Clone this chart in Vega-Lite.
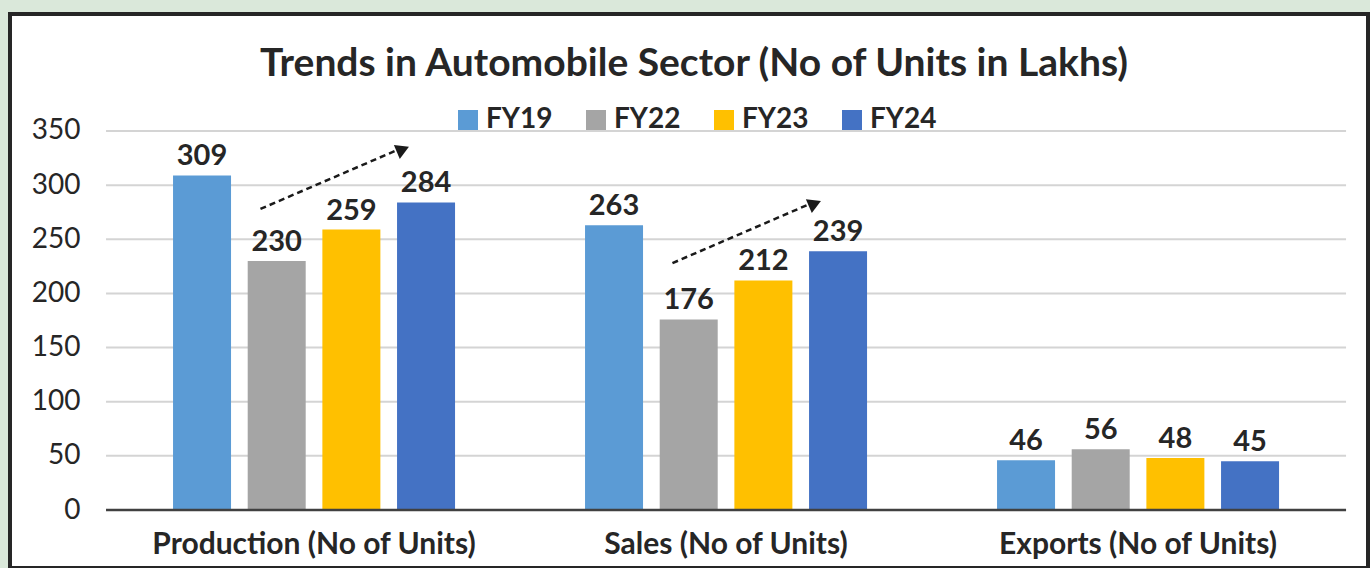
{
  "$schema": "https://vega.github.io/schema/vega-lite/v6.json",
  "autosize": {"type": "none"},
  "width": 1358,
  "height": 554,
  "padding": {"left": 10, "top": 14, "right": 2, "bottom": 0},
  "background": "#dae8da",
  "config": {
    "view": {"fill": "white", "stroke": "#262626", "strokeWidth": 4},
    "font": "Lato"
  },
  "title": {
    "text": "Trends in Automobile Sector (No of Units in Lakhs)",
    "font": "Lato",
    "fontSize": 39,
    "fontWeight": "bold",
    "color": "#262626",
    "anchor": "middle",
    "frame": "group",
    "baseline": "alphabetic",
    "offset": -101,
    "dx": 5
  },
  "datasets": {
    "bars": [
      {"category": "Production (No of Units)", "year": "FY19", "units": 309},
      {"category": "Production (No of Units)", "year": "FY22", "units": 230},
      {"category": "Production (No of Units)", "year": "FY23", "units": 259},
      {"category": "Production (No of Units)", "year": "FY24", "units": 284},
      {"category": "Sales (No of Units)", "year": "FY19", "units": 263},
      {"category": "Sales (No of Units)", "year": "FY22", "units": 176},
      {"category": "Sales (No of Units)", "year": "FY23", "units": 212},
      {"category": "Sales (No of Units)", "year": "FY24", "units": 239},
      {"category": "Exports (No of Units)", "year": "FY19", "units": 46},
      {"category": "Exports (No of Units)", "year": "FY22", "units": 56},
      {"category": "Exports (No of Units)", "year": "FY23", "units": 48},
      {"category": "Exports (No of Units)", "year": "FY24", "units": 45}
    ],
    "grid": [
      {"tick": 50}, {"tick": 100}, {"tick": 150}, {"tick": 200}, {"tick": 250}, {"tick": 300}, {"tick": 350}
    ],
    "arrows": [
      {"category": "Production (No of Units)", "from": 278, "to": 333},
      {"category": "Sales (No of Units)", "from": 228, "to": 283}
    ]
  },
  "layer": [
    {
      "data": {"name": "grid"},
      "mark": {"type": "rule", "stroke": "#d4d4d4", "strokeWidth": 2},
      "encoding": {
        "x": {"datum": "Production (No of Units)", "bandPosition": -0.2376},
        "x2": {"datum": "Exports (No of Units)", "bandPosition": 1.2376},
        "y": {"field": "tick", "type": "quantitative"}
      }
    },
    {
      "data": {"name": "bars"},
      "mark": {"type": "bar"},
      "encoding": {
        "x": {
          "field": "category",
          "type": "nominal",
          "sort": null,
          "scale": {"domain": ["Production (No of Units)", "Sales (No of Units)", "Exports (No of Units)"], "paddingInner": 0.3155, "paddingOuter": 0.3058, "align": 0.647},
          "axis": {
            "title": null,
            "orient": "bottom",
            "offset": -39,
            "labelPadding": 0,
            "tickSize": 0,
            "ticks": false,
            "domain": false,
            "labelAngle": 0,
            "labelAlign": "center",
            "labelFont": "Lato",
            "labelFontSize": 30,
            "labelFontWeight": "bold",
            "labelColor": "#262626",
            "labelBaseline": "top",
            "labelLimit": 600
          }
        },
        "xOffset": {
          "field": "year",
          "type": "nominal",
          "scale": {"paddingInner": 0.2232, "paddingOuter": 0}
        },
        "y": {
          "field": "units",
          "type": "quantitative",
          "scale": {"domain": [-53.56, 458.04], "nice": false, "zero": false},
          "axis": {
            "title": null,
            "values": [0, 50, 100, 150, 200, 250, 300, 350],
            "grid": false,
            "domain": false,
            "ticks": false,
            "tickSize": 0,
            "offset": -70,
            "labelPadding": 0,
            "labelFont": "Lato",
            "labelFontSize": 28,
            "labelColor": "#262626"
          }
        },
        "y2": {"datum": 0},
        "color": {
          "field": "year",
          "type": "nominal",
          "scale": {"domain": ["FY19", "FY22", "FY23", "FY24"], "range": ["#5b9bd5", "#a5a5a5", "#ffc000", "#4472c4"]},
          "legend": {
            "title": null,
            "orient": "none",
            "direction": "horizontal",
            "legendX": 444,
            "legendY": 92,
            "symbolType": "square",
            "symbolSize": 400,
            "symbolStrokeWidth": 0,
            "labelFont": "Lato",
            "labelFontSize": 28,
            "labelFontWeight": "bold",
            "labelColor": "#262626",
            "labelOffset": 4,
            "columnPadding": 29
          }
        }
      }
    },
    {
      "data": {"name": "bars"},
      "mark": {"type": "text", "baseline": "alphabetic", "dy": -10, "font": "Lato", "fontSize": 29, "fontWeight": "bold", "color": "#262626"},
      "encoding": {
        "x": {"field": "category", "type": "nominal", "sort": null},
        "xOffset": {"field": "year", "type": "nominal"},
        "y": {"field": "units", "type": "quantitative"},
        "text": {"field": "units", "type": "quantitative"}
      }
    },
    {
      "data": {"values": [{"zero": 0}]},
      "mark": {"type": "rule", "stroke": "#404040", "strokeWidth": 2.5},
      "encoding": {
        "x": {"datum": "Production (No of Units)", "bandPosition": -0.2376},
        "x2": {"datum": "Exports (No of Units)", "bandPosition": 1.2376},
        "y": {"field": "zero", "type": "quantitative"}
      }
    },
    {
      "data": {"name": "arrows"},
      "mark": {"type": "rule", "stroke": "#1a1a1a", "strokeWidth": 2.5, "strokeDash": [6, 4]},
      "encoding": {
        "x": {"field": "category", "type": "nominal", "sort": null, "bandPosition": 0.31},
        "x2": {"field": "category", "bandPosition": 0.8},
        "y": {"field": "from", "type": "quantitative"},
        "y2": {"field": "to"}
      }
    },
    {
      "data": {"name": "arrows"},
      "mark": {"type": "point", "shape": "triangle-right", "filled": true, "color": "#1a1a1a", "size": 230, "angle": 337, "opacity": 1},
      "encoding": {
        "x": {"field": "category", "type": "nominal", "sort": null, "bandPosition": 0.815},
        "y": {"field": "to", "type": "quantitative"}
      }
    }
  ]
}
